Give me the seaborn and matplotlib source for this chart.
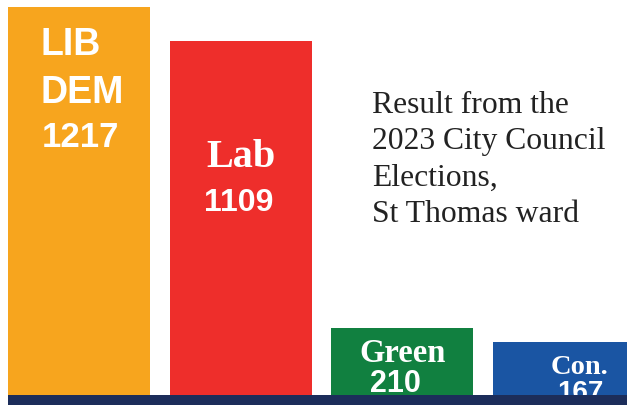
import matplotlib
matplotlib.use("Agg")
import matplotlib.pyplot as plt
import seaborn as sns
import pandas as pd

parties = ["LIB DEM", "Lab", "Green", "Con."]
votes = [1217, 1109, 210, 167]
colors = ["#F7A51E", "#EE2E2B", "#118040", "#1A55A3"]
note = "Result from the\n2023 City Council\nElections,\nSt Thomas ward"

df = pd.DataFrame({"party": parties, "votes": votes})

sns.set_theme(style="white")
fig = plt.figure(figsize=(6.27, 4.05), dpi=100)
ax = fig.add_axes([0, 10 / 405, 1, 395 / 405])
sns.barplot(data=df, x="party", y="votes", hue="party", palette=colors,
            legend=False, width=0.878, saturation=1, ax=ax, edgecolor="none")
ax.set_xlim(-0.4887, 3.3897)
ax.set_ylim(0, 1239)
ax.axis("off")

sans = "Liberation Sans"
serif = "Liberation Serif"

def lab(i, txt, dx, dy, size, fam, ha="center"):
    ax.annotate(txt, xy=(i, votes[i]), xytext=(dx, dy), textcoords="offset pixels",
                ha=ha, va="baseline", color="white", fontsize=size,
                fontweight="bold", family=fam)

lab(0, "LIB", -39, -48, 27, sans, ha="left")
lab(0, "DEM", -39, -96, 27, sans, ha="left")
lab(0, str(votes[0]), -37, -140, 25, sans, ha="left")
lab(1, "Lab", 0, -126, 29, serif)
lab(1, str(votes[1]), -2, -170, 23, sans)
lab(2, "Green", 0, -34, 23.5, serif)
lab(2, str(votes[2]), -7, -64, 22, sans)
lab(3, "Con.", 16, -32, 20.5, serif)
lab(3, str(votes[3]), 16, -58, 20, sans)

fig.text(372 / 627, 1 - 91 / 405, note, ha="left", va="top",
         fontsize=22.8, family=serif, color="#222222", linespacing=1.33)

base = fig.add_axes([8 / 627, 0, 619 / 627, 10 / 405])
base.set_facecolor("#1C2D5A")
base.set_xticks([]); base.set_yticks([])
for s in base.spines.values():
    s.set_visible(False)

fig.savefig("out.png", dpi=100)
